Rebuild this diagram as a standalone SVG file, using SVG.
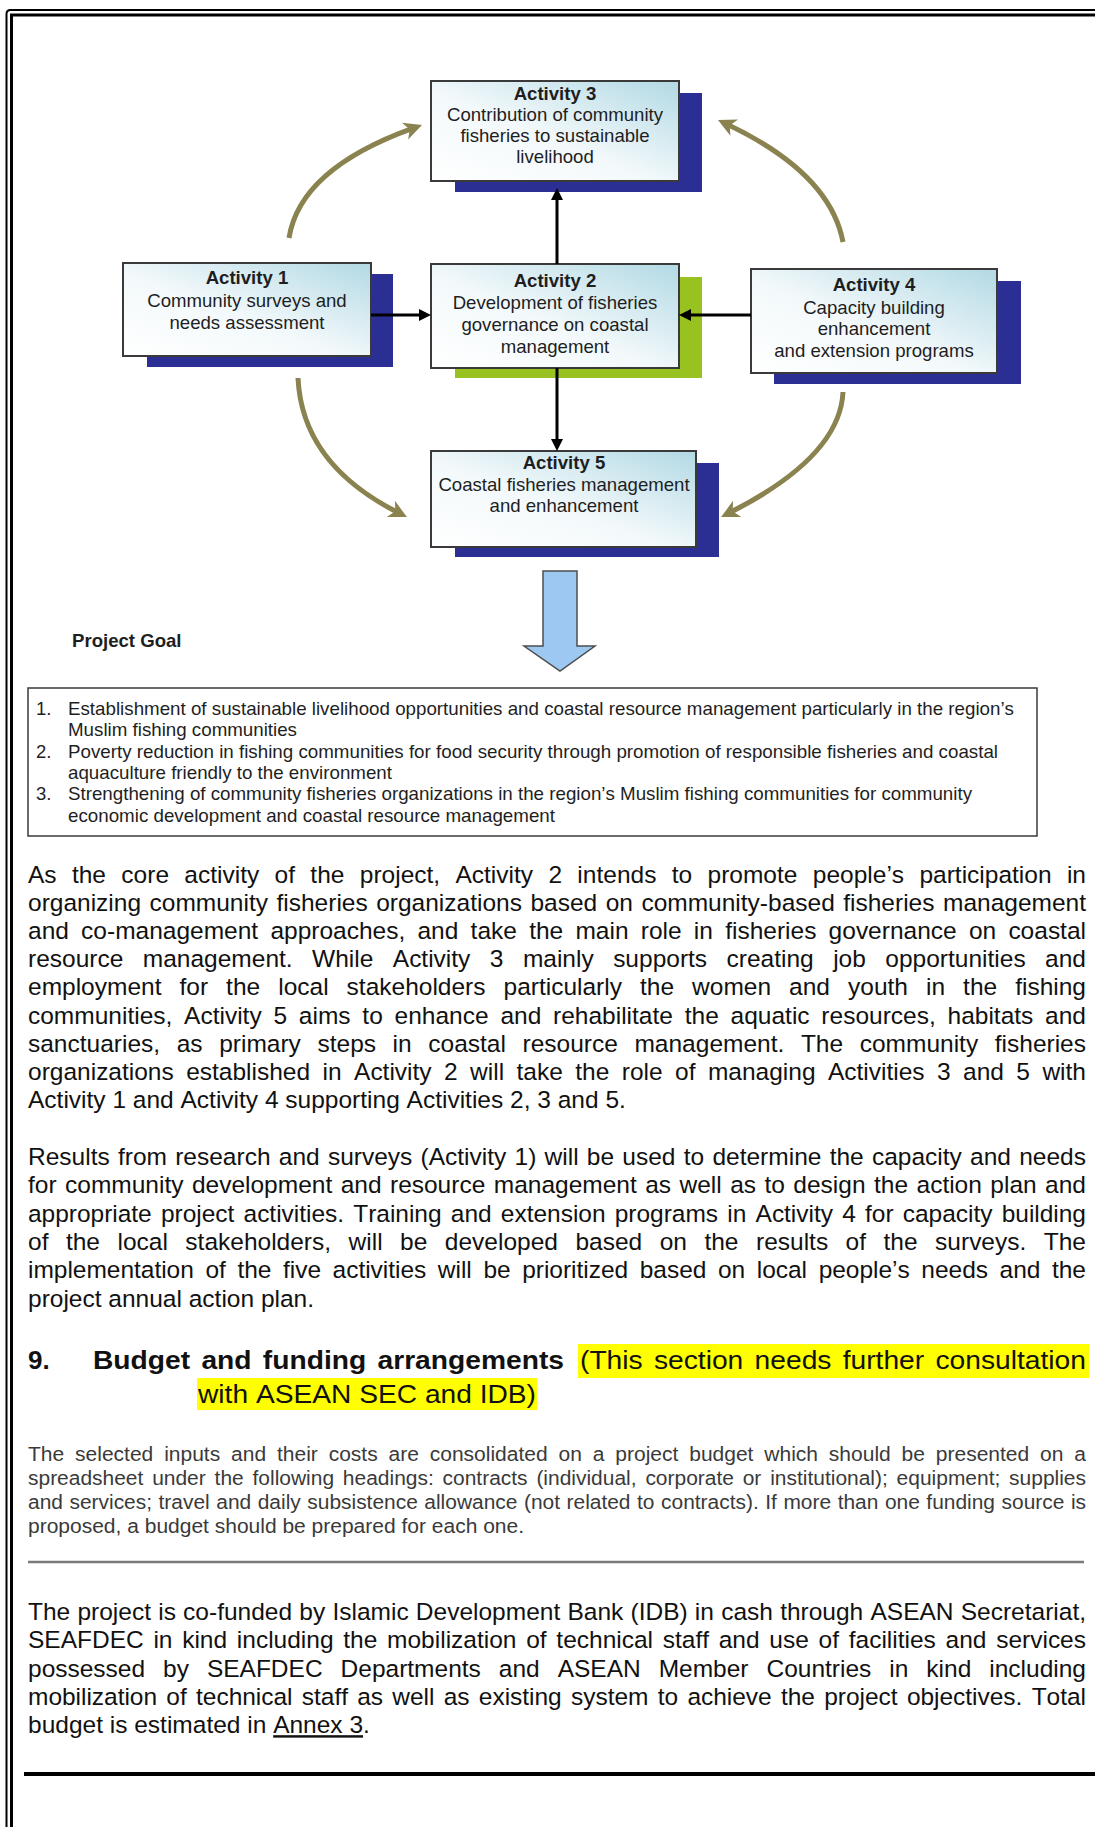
<svg xmlns="http://www.w3.org/2000/svg" width="1095" height="1827" viewBox="0 0 1095 1827">
<style>
  text { font-family: "Liberation Sans", Arial, sans-serif; font-kerning: none; }
  .bx { stroke: #3a3a3a; stroke-width: 2; fill: url(#boxg); }
  .sh { fill: #2b2f94; }
  .shg { fill: #98c21f; }
  .bt { font-size: 18.6px; fill: #1e1e1e; text-anchor: middle; }
  .bh { font-weight: bold; }
  .con { stroke: #000; stroke-width: 3; fill: none; marker-end: url(#ahb); }
  .cur { stroke: #8a8350; stroke-width: 5; fill: none; marker-end: url(#aho); }
  .p { font-size: 24.5px; fill: #111; }
  .ps { font-size: 20px; fill: #3a3a3a; }
  .g { font-size: 18.5px; fill: #1e1e1e; }
  .h { font-size: 26px; fill: #111; }
</style>
<defs>
  <linearGradient id="boxg" x1="0" y1="1" x2="1" y2="0">
    <stop offset="0" stop-color="#ffffff"/>
    <stop offset="0.45" stop-color="#f3f9fb"/>
    <stop offset="1" stop-color="#b2d9e4"/>
  </linearGradient>
  <marker id="ahb" markerUnits="userSpaceOnUse" markerWidth="20" markerHeight="20" refX="0" refY="0" orient="auto" overflow="visible">
    <path d="M8,0 L-4,-6 L-4,6 Z" fill="#000"/>
  </marker>
  <marker id="aho" markerUnits="userSpaceOnUse" markerWidth="24" markerHeight="24" refX="0" refY="0" orient="auto" overflow="visible">
    <path d="M10,0 L-8,-9 L-3,0 L-8,9 Z" fill="#8a8350"/>
  </marker>
</defs>

<rect x="0" y="0" width="1095" height="1827" fill="#ffffff"/>

<!-- page frame -->
<g id="frame" fill="none" stroke="#000">
  <path d="M6.5,1827 V14 Q6.5,10 10.5,10 H1095" stroke-width="2"/>
  <path d="M11.5,1827 V15 H1095" stroke-width="3"/>
</g>

<!-- nodes -->
<g id="activity3">
  <rect class="sh" x="455" y="93" width="247" height="99"/>
  <rect class="bx" x="431" y="81" width="248" height="100"/>
  <text class="bt bh" x="555" y="100">Activity 3</text>
  <text class="bt" x="555" y="121">Contribution of community</text>
  <text class="bt" x="555" y="142">fisheries to sustainable</text>
  <text class="bt" x="555" y="163">livelihood</text>
</g>
<g id="activity1">
  <rect class="sh" x="147" y="274" width="246" height="93"/>
  <rect class="bx" x="123" y="263" width="248" height="93"/>
  <text class="bt bh" x="247" y="284">Activity 1</text>
  <text class="bt" x="247" y="307">Community surveys and</text>
  <text class="bt" x="247" y="329">needs assessment</text>
</g>
<g id="activity2">
  <rect class="shg" x="455" y="277" width="247" height="101"/>
  <rect class="bx" x="431" y="264" width="248" height="104"/>
  <text class="bt bh" x="555" y="287">Activity 2</text>
  <text class="bt" x="555" y="309">Development of fisheries</text>
  <text class="bt" x="555" y="331">governance on coastal</text>
  <text class="bt" x="555" y="353">management</text>
</g>
<g id="activity4">
  <rect class="sh" x="774" y="281" width="247" height="103"/>
  <rect class="bx" x="751" y="269" width="246" height="104"/>
  <text class="bt bh" x="874" y="291">Activity 4</text>
  <text class="bt" x="874" y="314">Capacity building</text>
  <text class="bt" x="874" y="335">enhancement</text>
  <text class="bt" x="874" y="357">and extension programs</text>
</g>
<g id="activity5">
  <rect class="sh" x="455" y="463" width="264" height="94"/>
  <rect class="bx" x="431" y="451" width="265" height="96"/>
  <text class="bt bh" x="564" y="469">Activity 5</text>
  <text class="bt" x="564" y="491">Coastal fisheries management</text>
  <text class="bt" x="564" y="512">and enhancement</text>
</g>

<!-- connectors -->
<g id="connectors">
  <path class="con" d="M557,264 V196"/>
  <path class="con" d="M557,368 V443"/>
  <path class="con" d="M371,315 H423"/>
  <path class="con" d="M751,315 H687"/>
  <path class="cur" d="M289,238 Q300,169 412.6,128.4"/>
  <path class="cur" d="M843,242 Q830,173 727,124.3"/>
  <path class="cur" d="M298,378 Q302,464 398,512.5"/>
  <path class="cur" d="M843,392 Q840,456.7 730,512.5"/>
  <polygon points="543,571 577,571 577,646 595,646 560,671 524,646 543,646" fill="#9dc8f2" stroke="#4d4d4d" stroke-width="1.5" stroke-linejoin="miter"/>
</g>

<!-- project goal -->
<g id="project-goal">
  <text x="72" y="647" style="font-size:18.6px;font-weight:bold;fill:#1e1e1e">Project Goal</text>
  <rect x="28" y="688" width="1009" height="148" fill="#ffffff" stroke="#3a3a3a" stroke-width="1.5"/>
  <text class="g" x="36" y="715">1.</text>
  <text class="g" x="68" y="715" textLength="946" lengthAdjust="spacingAndGlyphs">Establishment of sustainable livelihood opportunities and coastal resource management particularly in the region’s</text>
  <text class="g" x="68" y="736.3" textLength="229" lengthAdjust="spacingAndGlyphs">Muslim fishing communities</text>
  <text class="g" x="36" y="757.7">2.</text>
  <text class="g" x="68" y="757.7" textLength="930" lengthAdjust="spacingAndGlyphs">Poverty reduction in fishing communities for food security through promotion of responsible fisheries and coastal</text>
  <text class="g" x="68" y="779" textLength="324" lengthAdjust="spacingAndGlyphs">aquaculture friendly to the environment</text>
  <text class="g" x="36" y="800.3">3.</text>
  <text class="g" x="68" y="800.3" textLength="904" lengthAdjust="spacingAndGlyphs">Strengthening of community fisheries organizations in the region’s Muslim fishing communities for community</text>
  <text class="g" x="68" y="821.7" textLength="487" lengthAdjust="spacingAndGlyphs">economic development and coastal resource management</text>
</g>

<!-- paragraph 1 -->
<g id="para1">
  <text class="p" x="28" y="883" word-spacing="8.55" textLength="1058" lengthAdjust="spacing">As the core activity of the project, Activity 2 intends to promote people’s participation in</text>
  <text class="p" x="28" y="911.1" word-spacing="1.70" textLength="1058" lengthAdjust="spacing">organizing community fisheries organizations based on community-based fisheries management</text>
  <text class="p" x="28" y="939.2" word-spacing="5.44" textLength="1058" lengthAdjust="spacing">and co-management approaches, and take the main role in fisheries governance on coastal</text>
  <text class="p" x="28" y="967.3" word-spacing="12.66" textLength="1058" lengthAdjust="spacing">resource management. While Activity 3 mainly supports creating job opportunities and</text>
  <text class="p" x="28" y="995.4" word-spacing="11.23" textLength="1058" lengthAdjust="spacing">employment for the local stakeholders particularly the women and youth in the fishing</text>
  <text class="p" x="28" y="1023.5" word-spacing="4.98" textLength="1058" lengthAdjust="spacing">communities, Activity 5 aims to enhance and rehabilitate the aquatic resources, habitats and</text>
  <text class="p" x="28" y="1051.6" word-spacing="9.81" textLength="1058" lengthAdjust="spacing">sanctuaries, as primary steps in coastal resource management. The community fisheries</text>
  <text class="p" x="28" y="1079.7" word-spacing="5.63" textLength="1058" lengthAdjust="spacing">organizations established in Activity 2 will take the role of managing Activities 3 and 5 with</text>
  <text class="p" x="28" y="1107.8">Activity 1 and Activity 4 supporting Activities 2, 3 and 5.</text>
</g>

<!-- paragraph 2 -->
<g id="para2">
  <text class="p" x="28" y="1165" word-spacing="1.45" textLength="1058" lengthAdjust="spacing">Results from research and surveys (Activity 1) will be used to determine the capacity and needs</text>
  <text class="p" x="28" y="1193.3" word-spacing="1.65" textLength="1058" lengthAdjust="spacing">for community development and resource management as well as to design the action plan and</text>
  <text class="p" x="28" y="1221.6" word-spacing="2.48" textLength="1058" lengthAdjust="spacing">appropriate project activities. Training and extension programs in Activity 4 for capacity building</text>
  <text class="p" x="28" y="1249.9" word-spacing="10.69" textLength="1058" lengthAdjust="spacing">of the local stakeholders, will be developed based on the results of the surveys. The</text>
  <text class="p" x="28" y="1278.2" word-spacing="4.84" textLength="1058" lengthAdjust="spacing">implementation of the five activities will be prioritized based on local people’s needs and the</text>
  <text class="p" x="28" y="1306.5">project annual action plan.</text>
</g>

<!-- heading 9 -->
<g id="heading9">
  <rect x="578" y="1344" width="511" height="34" fill="#ffff00"/>
  <rect x="197" y="1378" width="340" height="32" fill="#ffff00"/>
  <text class="h" x="28" y="1369" font-weight="bold">9.</text>
  <text class="h" x="93" y="1369" font-weight="bold" word-spacing="3.2" textLength="471" lengthAdjust="spacingAndGlyphs">Budget and funding arrangements</text>
  <text class="h" x="580" y="1369" word-spacing="3.15" textLength="506" lengthAdjust="spacingAndGlyphs">(This section needs further consultation</text>
  <text class="h" x="198" y="1403" textLength="338" lengthAdjust="spacingAndGlyphs">with ASEAN SEC and IDB)</text>
</g>

<!-- paragraph 3 -->
<g id="para3">
  <text class="ps" x="28" y="1460.7" word-spacing="4.8" textLength="1058" lengthAdjust="spacingAndGlyphs">The selected inputs and their costs are consolidated on a project budget which should be presented on a</text>
  <text class="ps" x="28" y="1484.8" word-spacing="2.86" textLength="1058" lengthAdjust="spacingAndGlyphs">spreadsheet under the following headings: contracts (individual, corporate or institutional); equipment; supplies</text>
  <text class="ps" x="28" y="1508.9" word-spacing="0.69" textLength="1058" lengthAdjust="spacingAndGlyphs">and services; travel and daily subsistence allowance (not related to contracts). If more than one funding source is</text>
  <text class="ps" x="28" y="1533" textLength="496" lengthAdjust="spacingAndGlyphs">proposed, a budget should be prepared for each one.</text>
</g>

<line x1="28" y1="1562" x2="1084" y2="1562" stroke="#7a7a7a" stroke-width="2.5"/>

<!-- paragraph 4 -->
<g id="para4">
  <text class="p" x="28" y="1620" word-spacing="0.42" textLength="1058" lengthAdjust="spacing">The project is co-funded by Islamic Development Bank (IDB) in cash through ASEAN Secretariat,</text>
  <text class="p" x="28" y="1648.3" word-spacing="2.92" textLength="1058" lengthAdjust="spacing">SEAFDEC in kind including the mobilization of technical staff and use of facilities and services</text>
  <text class="p" x="28" y="1676.6" word-spacing="11.17" textLength="1058" lengthAdjust="spacing">possessed by SEAFDEC Departments and ASEAN Member Countries in kind including</text>
  <text class="p" x="28" y="1704.9" word-spacing="2.51" textLength="1058" lengthAdjust="spacing">mobilization of technical staff as well as existing system to achieve the project objectives. Total</text>
  <text class="p" x="28" y="1733.2">budget is estimated in <tspan text-decoration="underline">Annex 3</tspan>.</text>
</g>

<line x1="24" y1="1774" x2="1095" y2="1774" stroke="#000" stroke-width="4"/>
</svg>
